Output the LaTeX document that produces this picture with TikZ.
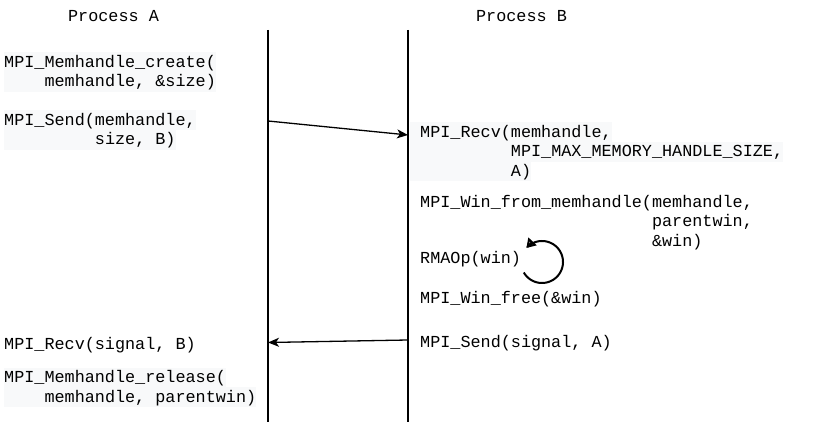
\documentclass[tikz,border=0pt]{standalone}
\usepackage{fontspec}
\newfontfamily\monof{Liberation Mono}
\usetikzlibrary{arrows.meta}
\definecolor{hl}{RGB}{248,249,250}
\newcommand\ind[1]{\hspace*{\dimexpr #1\fontcharwd\font`M\relax}}
\tikzset{
  txt/.style={anchor=base west, inner sep=0pt, font=\monof\fontsize{16.8}{19.6}\selectfont},
  hltxt/.style={txt, fill=hl, text height=15pt, text depth=5pt},
  head/.style={anchor=base, inner sep=0pt, font=\monof\fontsize{16.8}{19.6}\selectfont},
  life/.style={line width=1.3pt},
  msg/.style={line width=1.3pt, -{Stealth[length=11pt,width=9pt,inset=3pt]}},
  loopy/.style={line width=2pt, -{Triangle[open,length=9pt,width=11pt,line width=2pt]}}
}
\begin{document}
\begin{tikzpicture}[x=1pt,y=-1pt]
\useasboundingbox (0,0) rectangle (830,427);
% headers
\node[head] (hA) at (113.5,21.7) {Process A};
\node[head] (hB) at (521.5,21.7) {Process B};
% lifelines
\coordinate (Atop) at (268,30);
\coordinate (Abot) at (268,422);
\coordinate (Btop) at (408,30);
\coordinate (Bbot) at (408,422);
\draw[life] (Atop) -- (Abot);
\draw[life] (Btop) -- (Bbot);
% left texts
\node[hltxt] (c1) at (4,67.3) {MPI\_Memhandle\_create(};
\node[hltxt] (c2) at (4,86.9) {\ind{4}memhandle, \&size)};
\node[hltxt] (s1) at (4,125.3) {MPI\_Send(memhandle,};
\node[hltxt] (s2) at (4,144.9) {\ind{9}size, B)};
\node[txt] (rs) at (4,349.3) {MPI\_Recv(signal, B)};
\node[hltxt] (m1) at (4,382.7) {MPI\_Memhandle\_release(};
\node[hltxt] (m2) at (4,402.3) {\ind{4}memhandle, parentwin)};
% right texts
\node[hltxt] (r1) at (410,137.3) {\hspace*{10pt}MPI\_Recv(memhandle,};
\node[hltxt] (r2) at (410,156.9) {\hspace*{10pt}\ind{9}MPI\_MAX\_MEMORY\_HANDLE\_SIZE,};
\node[hltxt] (r3) at (410,176.5) {\hspace*{10pt}\ind{9}A)};
\node[txt] (w1) at (420,207.3) {MPI\_Win\_from\_memhandle(memhandle,};
\node[txt] (w2) at (420,226.9) {\ind{23}parentwin,};
\node[txt] (w3) at (420,246.5) {\ind{23}\&win)};
\node[txt] (rma) at (420,263.3) {RMAOp(win)};
\node[txt] (wf) at (420,304) {MPI\_Win\_free(\&win)};
\node[txt] (ss) at (420,347.7) {MPI\_Send(signal, A)};
% messages
\coordinate (m1s) at (268,121);
\coordinate (m1e) at (408,135);
\coordinate (m2s) at (408,340);
\coordinate (m2e) at (268,342.5);
\draw[msg] (m1s) -- (m1e);
\draw[msg] (m2s) -- (m2e);
% self loop
\coordinate (lc) at (542,262);
\draw[loopy] plot[domain=150:-138, samples=80, smooth] ({542+21*cos(\x)},{262+21*sin(\x)});
\end{tikzpicture}
\end{document}
